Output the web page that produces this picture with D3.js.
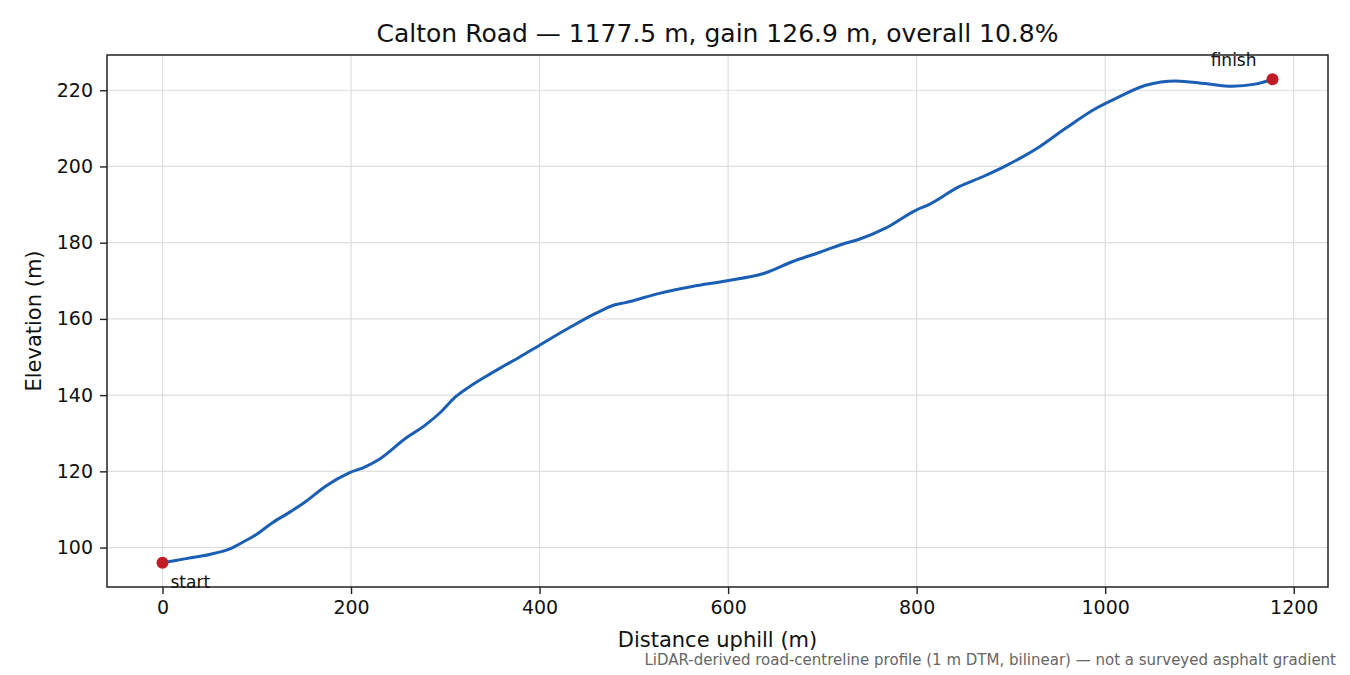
<!DOCTYPE html>
<html>
<head>
<meta charset="utf-8">
<script src="https://cdn.jsdelivr.net/npm/d3@7"></script>
<style>
  body { margin: 0; background: #fff; }
  svg { font-family: "DejaVu Sans", sans-serif; }
</style>
</head>
<body>
<svg width="1350" height="675"></svg>
<script>
// distance along road (m) and elevation (m), read from the profile
const distance = [0, 25, 50, 70, 85, 100, 117, 135, 152, 173, 198, 215, 230, 258, 278, 295, 311, 325, 343, 361,
  379, 400, 431, 460, 480, 490, 527, 562, 599, 640, 668, 695, 721, 739, 767, 799, 813, 845, 870, 894,
  930, 958, 990, 1011, 1043, 1075, 1106, 1135, 1159, 1177.5];
const elevation = [96.0, 97.1, 98.2, 99.5, 101.4, 103.5, 106.6, 109.3, 112.1, 116.1, 119.6, 121.2, 123.2, 128.7, 132.0, 135.5, 139.6, 142.1, 144.9, 147.5,
  150.0, 153.1, 157.6, 161.5, 163.7, 164.2, 166.7, 168.5, 170.0, 172.1, 175.0, 177.3, 179.6, 180.9, 183.8, 188.5, 190.0, 194.7, 197.3, 200.1,
  205.1, 210.0, 215.2, 217.8, 221.3, 222.45, 221.75, 221.05, 221.6, 222.9];
const xTicks = [0, 200, 400, 600, 800, 1000, 1200];
const yTicks = [100, 120, 140, 160, 180, 200, 220];

const title = 'Calton Road \u2014 1177.5 m, gain 126.9 m, overall 10.8%';
const note = 'LiDAR-derived road-centreline profile (1 m DTM, bilinear) \u2014 not a surveyed asphalt gradient';

const data = distance.map((d, i) => ({d: d, e: elevation[i]}));

const plotLeft = 107, plotRight = 1328, plotTop = 55, plotBottom = 587;
const svg = d3.select('svg');

const dMax = d3.max(distance), eMin = d3.min(elevation), eMax = d3.max(elevation);
const padX = dMax * 0.05, padY = (eMax - eMin) * 0.05;

const x = d3.scaleLinear().domain([-padX, dMax + padX]).range([plotLeft, plotRight]);
const y = d3.scaleLinear().domain([eMin - padY, eMax + padY]).range([plotBottom, plotTop]);

// grid
const grid = svg.append('g').attr('stroke', '#dedede').attr('stroke-width', 1.2);
grid.selectAll('.gx').data(xTicks).enter().append('line')
  .attr('x1', d => x(d)).attr('x2', d => x(d)).attr('y1', plotTop).attr('y2', plotBottom);
grid.selectAll('.gy').data(yTicks).enter().append('line')
  .attr('x1', plotLeft).attr('x2', plotRight).attr('y1', d => y(d)).attr('y2', d => y(d));

// axes
const xAxis = svg.append('g')
  .attr('transform', 'translate(0,' + plotBottom + ')')
  .call(d3.axisBottom(x).tickValues(xTicks).tickFormat(d3.format('d')).tickSize(7).tickPadding(7).tickSizeOuter(0));
const yAxis = svg.append('g')
  .attr('transform', 'translate(' + plotLeft + ',0)')
  .call(d3.axisLeft(y).tickValues(yTicks).tickFormat(d3.format('d')).tickSize(7).tickPadding(7).tickSizeOuter(0));
[xAxis, yAxis].forEach(a => {
  a.select('.domain').remove();
  a.selectAll('line').attr('stroke', '#222').attr('stroke-width', 1.4);
  a.selectAll('text').attr('font-size', 19).attr('fill', '#111').attr('font-family', 'DejaVu Sans');
});

// frame
svg.append('rect')
  .attr('x', plotLeft).attr('y', plotTop).attr('width', plotRight - plotLeft).attr('height', plotBottom - plotTop)
  .attr('fill', 'none').attr('stroke', '#222').attr('stroke-width', 1.5);

// profile line
svg.append('path')
  .datum(data)
  .attr('fill', 'none')
  .attr('stroke', '#1a5fb4')
  .attr('stroke-width', 3)
  .attr('stroke-linejoin', 'round')
  .attr('d', d3.line().x(d => x(d.d)).y(d => y(d.e)).curve(d3.curveMonotoneX));

// start / finish markers
const ends = [data[0], data[data.length - 1]];
svg.selectAll('.end').data(ends).enter().append('circle')
  .attr('cx', d => x(d.d)).attr('cy', d => y(d.e)).attr('r', 6)
  .attr('fill', '#c01c28');

svg.append('text')
  .attr('x', x(ends[0].d) + 8).attr('y', y(ends[0].e) + 25)
  .attr('font-size', 17).attr('fill', '#111').text('start');
svg.append('text')
  .attr('x', x(ends[1].d) - 16).attr('y', y(ends[1].e) - 13)
  .attr('text-anchor', 'end')
  .attr('font-size', 17).attr('fill', '#111').text('finish');

// labels
svg.append('text')
  .attr('x', (plotLeft + plotRight) / 2).attr('y', 42)
  .attr('text-anchor', 'middle').attr('font-size', 25).attr('fill', '#111')
  .text(title);
svg.append('text')
  .attr('x', (plotLeft + plotRight) / 2).attr('y', 647)
  .attr('text-anchor', 'middle').attr('font-size', 21).attr('fill', '#111')
  .text('Distance uphill (m)');
svg.append('text')
  .attr('transform', 'translate(41,' + ((plotTop + plotBottom) / 2) + ') rotate(-90)')
  .attr('text-anchor', 'middle').attr('font-size', 21).attr('fill', '#111')
  .text('Elevation (m)');
svg.append('text')
  .attr('x', 1336).attr('y', 665)
  .attr('text-anchor', 'end').attr('font-size', 15).attr('fill', '#666')
  .text(note);
</script>
</body>
</html>
